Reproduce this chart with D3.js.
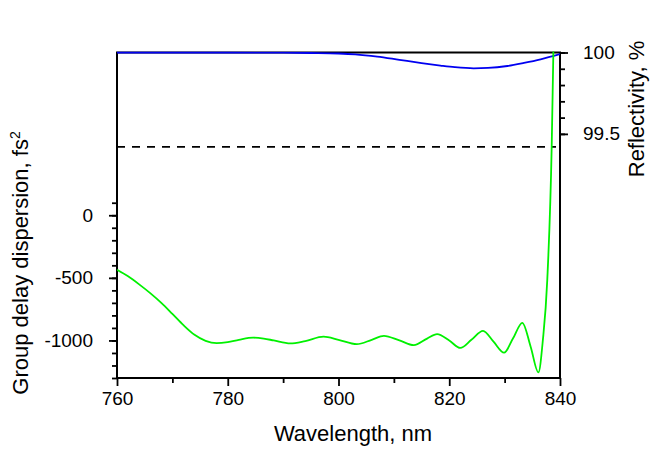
<!DOCTYPE html>
<html>
<head>
<meta charset="utf-8">
<script src="https://cdn.jsdelivr.net/npm/d3@7"></script>
<style>
  body { margin: 0; background: #fff; }
  svg text { font-family: Arial, "Liberation Sans", sans-serif; fill: #000; }
</style>
</head>
<body>
<div id="chart"></div>
<script>
// group delay dispersion (fs^2)
const gddWavelength = [760, 762, 764, 766, 768, 770, 772, 774, 776, 778, 780, 782, 784.6, 786.5, 788.3,
    791.3, 794, 797.3, 800, 803.3, 806, 808.2, 811, 813.6, 816, 817.8, 820, 822, 824, 826.1, 828,
    829.9, 831.5, 833.2, 834.7, 836.1, 836.9, 837.7, 838.5, 838.8, 839.2];
const gddValues = [-435, -488, -552, -622, -700, -788, -878, -955, -1003, -1021, -1013, -995, -978, -985, -1000,
    -1024, -1005, -970, -995, -1030, -995, -963, -1000, -1038, -985, -949, -1000, -1060, -995, -923, -1010,
    -1098, -985, -859, -1050, -1255, -1000, -518, 550, 1300, 2200];

// reflectivity (%), blue curve
const reflWavelength = [760, 770, 780, 790, 795, 800, 803, 807, 811, 815, 818.4, 821, 824.4, 827, 830.5, 833.5, 836.5, 840];
const reflValues = [100, 100, 100, 99.999, 99.997, 99.994, 99.989, 99.975, 99.955, 99.935, 99.92, 99.91, 99.903, 99.905, 99.917, 99.936, 99.958, 99.99];

const xTicks = [760, 780, 800, 820, 840];
const xMinorTicks = [770, 790, 810, 830];
const gddTicks = [-1000, -500, 0];
const reflTicks = [99.5, 100];
const dashedLevel = 99.42;   // reflectivity level of the dashed line

const width = 650, height = 453;
const margin = {top: 52.5, right: 90, bottom: 75, left: 117};

const svg = d3.select("#chart").append("svg")
    .attr("width", width)
    .attr("height", height);

const x = d3.scaleLinear().domain([760, 840]).range([margin.left, width - margin.right]);
const yL = d3.scaleLinear().domain([-1300, 1300]).range([height - margin.bottom, margin.top]);
const yR = d3.scaleLinear().domain([98, 100]).range([height - margin.bottom, margin.top]);

svg.append("defs").append("clipPath").attr("id", "plot")
    .append("rect")
    .attr("x", margin.left).attr("y", margin.top - 1)
    .attr("width", x(840) - x(760)).attr("height", yL(-1300) - yL(1300) + 1);

function styleAxis(g) {
    g.select(".domain").remove();
    g.selectAll(".tick line").attr("stroke", "#000").attr("stroke-width", 1.8);
    g.selectAll(".tick text").style("font-size", "19px");
}

// bottom axis
svg.append("g")
    .attr("transform", `translate(0,${yL(-1300)})`)
    .call(d3.axisBottom(x).tickValues(xMinorTicks).tickSize(5).tickFormat(""))
    .call(styleAxis);
svg.append("g")
    .attr("transform", `translate(0,${yL(-1300)})`)
    .call(d3.axisBottom(x).tickValues(xTicks).tickSize(8).tickPadding(6).tickFormat(d => String(d)))
    .call(styleAxis);

// left axis
svg.append("g")
    .attr("transform", `translate(${margin.left},0)`)
    .call(d3.axisLeft(yL).tickValues(d3.range(-1300, 101, 100)).tickSize(5).tickFormat(""))
    .call(styleAxis);
svg.append("g")
    .attr("transform", `translate(${margin.left},0)`)
    .call(d3.axisLeft(yL).tickValues(gddTicks).tickSize(8).tickPadding(16).tickFormat(d => String(d)))
    .call(styleAxis);

// right axis
svg.append("g")
    .attr("transform", `translate(${x(840)},0)`)
    .call(d3.axisRight(yR).tickValues(d3.range(99.5, 100.001, 0.1)).tickSize(5).tickFormat(""))
    .call(styleAxis);
svg.append("g")
    .attr("transform", `translate(${x(840)},0)`)
    .call(d3.axisRight(yR).tickValues(reflTicks).tickSize(8).tickPadding(15).tickFormat(d => String(d)))
    .call(styleAxis);

// frame
svg.append("rect")
    .attr("x", x(760)).attr("y", yL(1300))
    .attr("width", x(840) - x(760)).attr("height", yL(-1300) - yL(1300))
    .attr("fill", "none").attr("stroke", "#000").attr("stroke-width", 2);

// dashed line
svg.append("line")
    .attr("x1", x(760)).attr("x2", x(840) - 4)
    .attr("y1", yR(dashedLevel)).attr("y2", yR(dashedLevel))
    .attr("stroke", "#000").attr("stroke-width", 1.8)
    .attr("stroke-dasharray", "8,7");

const plot = svg.append("g").attr("clip-path", "url(#plot)");

plot.append("path")
    .datum(reflWavelength.map((w, i) => [w, reflValues[i]]))
    .attr("fill", "none").attr("stroke", "#0000f0").attr("stroke-width", 1.8)
    .attr("d", d3.line().x(d => x(d[0])).y(d => yR(d[1])).curve(d3.curveMonotoneX));

plot.append("path")
    .datum(gddWavelength.map((w, i) => [w, gddValues[i]]))
    .attr("fill", "none").attr("stroke", "#00f000").attr("stroke-width", 1.8)
    .attr("d", d3.line().x(d => x(d[0])).y(d => yL(d[1])).curve(d3.curveMonotoneX));

// titles
svg.append("text")
    .attr("x", 353).attr("y", 441)
    .attr("text-anchor", "middle")
    .style("font-size", "22px")
    .text("Wavelength, nm");

const leftTitle = svg.append("text")
    .attr("transform", "translate(28,263) rotate(-90)")
    .attr("text-anchor", "middle")
    .style("font-size", "22px");
leftTitle.append("tspan").text("Group delay dispersion, fs");
leftTitle.append("tspan").attr("dy", "-8").style("font-size", "14px").text("2");

svg.append("text")
    .attr("transform", "translate(644,109) rotate(-90)")
    .attr("text-anchor", "middle")
    .style("font-size", "22px")
    .text("Reflectivity, %");
</script>
</body>
</html>
